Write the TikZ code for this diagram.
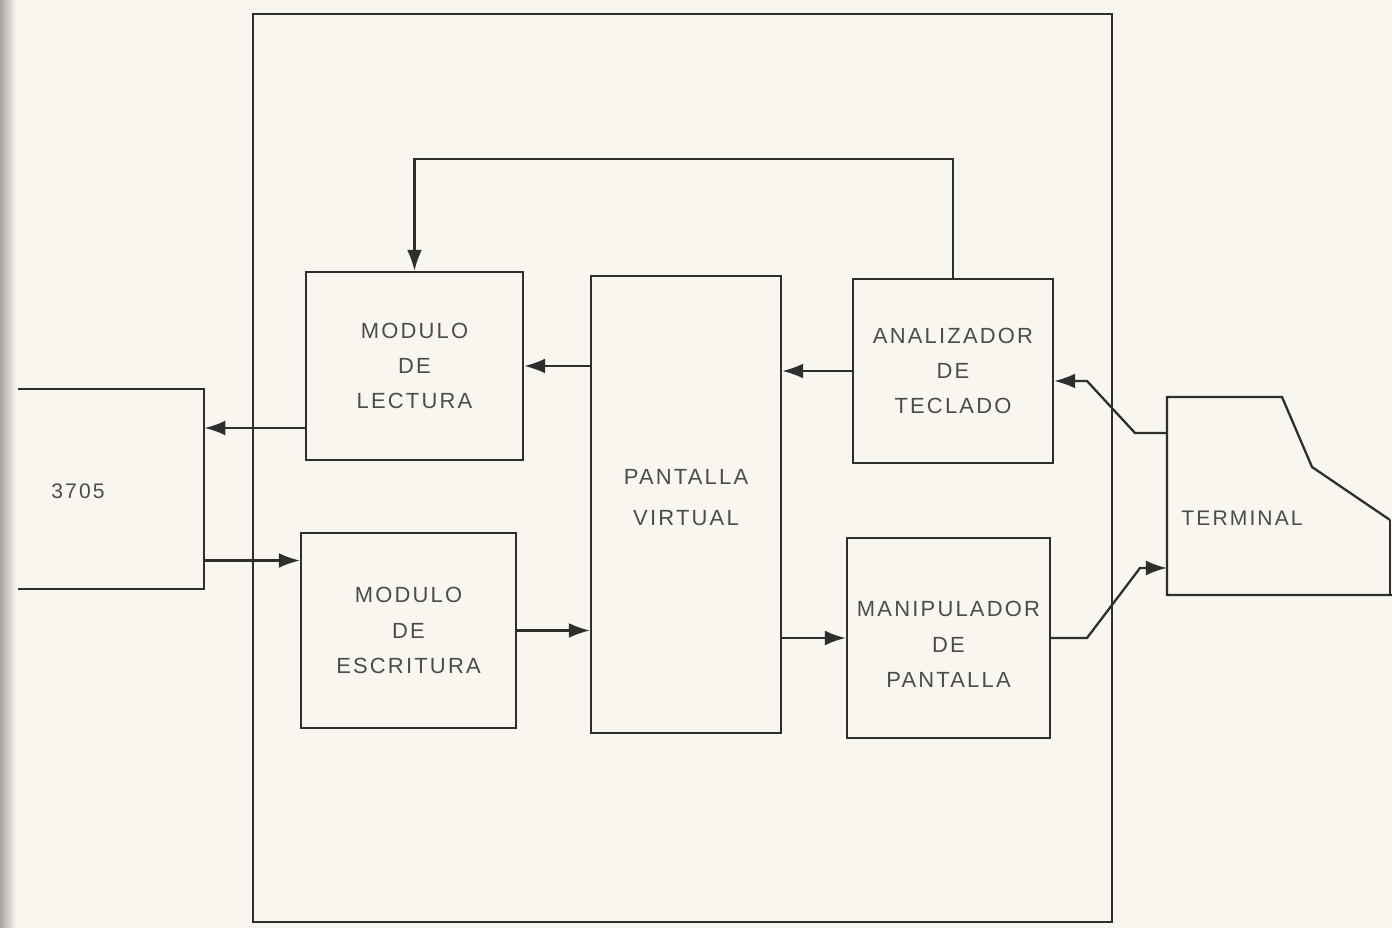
\documentclass[tikz,border=0pt]{standalone}
\usepackage{fontspec}
\newfontfamily\lett[LetterSpace=10]{Liberation Sans}
\usetikzlibrary{arrows.meta,calc}
\definecolor{paper}{HTML}{F8F6EF}
\definecolor{ink}{HTML}{2E2E2E}
\definecolor{txt}{HTML}{4C4C4C}
\definecolor{edge}{HTML}{A8A39E}
\begin{document}
\begin{tikzpicture}[x=0.02cm,y=-0.02cm,
  line/.style={draw=ink,line width=1.3pt},
  blk/.style={line,rectangle,inner sep=0pt,align=center,
    font=\lett\fontsize{12.5}{20}\selectfont,text=txt},
  ghost/.style={rectangle,inner sep=0pt},
  lbl/.style={inner sep=0pt,font=\lett\fontsize{12}{20}\selectfont,text=txt},
  arr/.style={line,-{Latex[length=12pt,width=8.5pt]}}]
\useasboundingbox (0,0) rectangle (1392,928);
\fill[paper] (0,0) rectangle (1392,928);
\shade[left color=edge,right color=paper] (0,0) rectangle (16,928);

% system boundary
\node[line,ghost,minimum width=17.18cm,minimum height=18.16cm] (sys) at (682.5,468) {};

% 3705 (open on the left)
\node[ghost,minimum width=3.72cm,minimum height=4.00cm] (n3705) at (111,489) {};
\draw[line] (n3705.north west) -- (n3705.north east) -- (n3705.south east) -- (n3705.south west);
\node[lbl] (t3705) at (78,491) {3705};

% blocks
\node[blk,minimum width=4.34cm,minimum height=3.76cm] (lect) at (414.5,366) {MODULO\\DE\\LECTURA};
\node[blk,minimum width=4.30cm,minimum height=3.90cm] (escr) at (408.5,630.5) {MODULO\\DE\\ESCRITURA};
\node[blk,minimum width=3.80cm,minimum height=9.14cm,font=\lett\fontsize{12.5}{23}\selectfont] (pant) at (686,504.5) {PANTALLA\\VIRTUAL\\[-15pt]};
\node[blk,minimum width=4.00cm,minimum height=3.68cm] (anal) at (953,371) {ANALIZADOR\\DE\\TECLADO};
\node[blk,minimum width=4.06cm,minimum height=4.00cm] (manip) at (948.5,638) {\\[-4pt]MANIPULADOR\\DE\\PANTALLA};

% terminal
\draw[line] (1390,520) -- (1312,467) -- (1282,397) -- (1167,397) -- (1167,595) -- (1392,595);
\draw[line] (1390,520) -- (1390,595);
\coordinate (tin) at (1167,433);
\coordinate (tout) at (1167,568);
\node[lbl] (term) at (1242,518) {TERMINAL};

% connectors
\coordinate (l1) at ($(lect.west)+(0,62)$);
\coordinate (e1) at ($(escr.west)+(0,-70)$);
\draw[arr] (l1) -- (n3705.east |- l1);
\draw[arr] (n3705.east |- e1) -- (e1);
\draw[arr] (pant.west |- lect.east) -- (lect.east);
\draw[arr] (anal.west) -- (pant.east |- anal.west);
\draw[arr] (escr.east) -- (pant.west |- escr.east);
\draw[arr] (pant.east |- manip.west) -- (manip.west);
\draw[arr] (anal.north) -- ++(0,-119) -| (lect.north);
\coordinate (k1) at (1087,381);
\draw[arr] (tin) -- (1135,433) -- (k1) -- (anal.east |- k1);
\draw[arr] (manip.east) -- (1087,638) -- (1140,568) -- (tout);
\end{tikzpicture}
\end{document}
